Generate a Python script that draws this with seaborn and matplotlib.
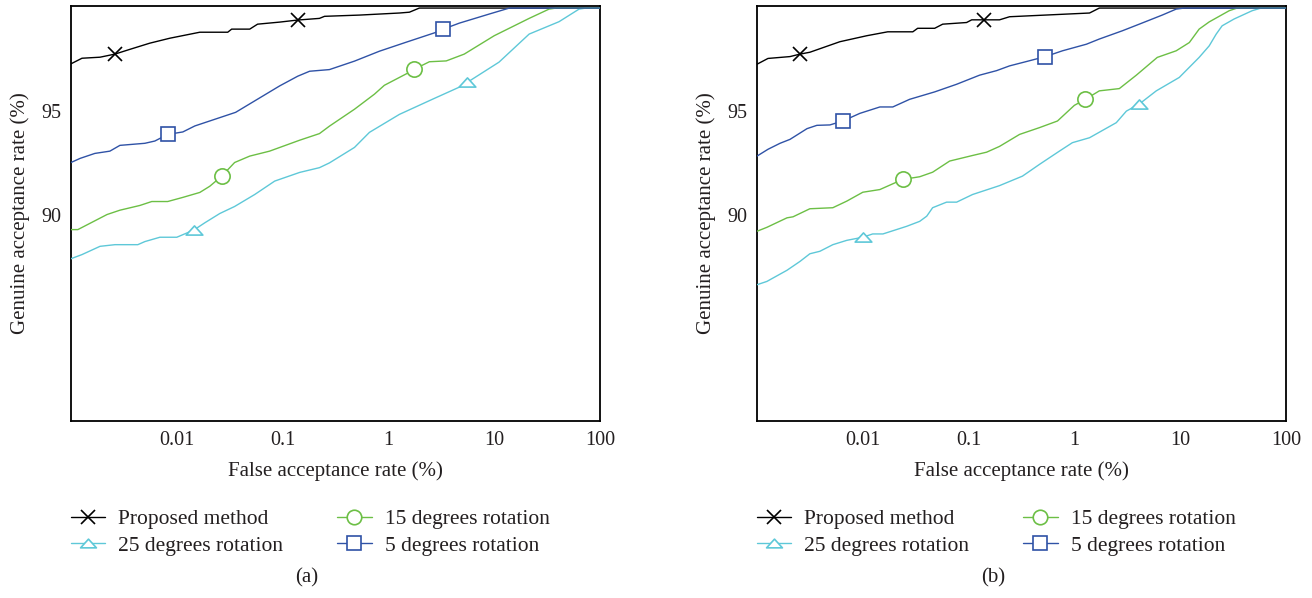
import numpy as np
import pandas as pd
import matplotlib
matplotlib.use("Agg")
import matplotlib.pyplot as plt
from matplotlib.lines import Line2D
from matplotlib.path import Path
import seaborn as sns

# ---------------- data: FAR (%) vs. GAR (%) ----------------
series_names = ["Proposed method", "25 degrees rotation",
                "15 degrees rotation", "5 degrees rotation"]

# panel (a)
far_a_proposed = [0.001, 0.00127, 0.00188, 0.0026, 0.0036, 0.00556, 0.0086, 0.0165,
                  0.0303, 0.033, 0.0489, 0.058, 0.0938, 0.139, 0.223, 0.249, 0.532,
                  1.27, 1.58, 1.96, 100]
gar_a_proposed = [97.3, 97.57, 97.62, 97.77, 98.0, 98.3, 98.54, 98.83,
                  98.83, 98.98, 98.98, 99.22, 99.32, 99.42, 99.5, 99.6, 99.66,
                  99.76, 99.8, 100, 100]

far_a_rot25 = [0.001, 0.00127, 0.00188, 0.0026, 0.00428, 0.00499, 0.00692, 0.01,
               0.0145, 0.0184, 0.0255, 0.0352, 0.0545, 0.0842, 0.145, 0.223, 0.277,
               0.478, 0.662, 1.27, 2.6, 4.68, 5.56, 11.1, 21.4, 41.0, 63.4, 73.8, 100]
gar_a_rot25 = [87.86, 88.06, 88.46, 88.54, 88.54, 88.69, 88.9, 88.9,
               89.25, 89.6, 90.05, 90.39, 90.97, 91.62, 92.04, 92.27, 92.5,
               93.25, 93.98, 94.85, 95.58, 96.17, 96.4, 97.38, 98.74, 99.34, 99.95, 100, 100]

far_a_rot15 = [0.001, 0.00116, 0.00219, 0.0029, 0.00448, 0.0058, 0.0082, 0.0114,
               0.0165, 0.0205, 0.0266, 0.0352, 0.0489, 0.0753, 0.145, 0.223, 0.277,
               0.478, 0.738, 0.916, 1.51, 1.76, 2.44, 3.52, 5.21, 10.0, 21.4, 33.0,
               38.5, 100]
gar_a_rot15 = [89.27, 89.27, 90.0, 90.21, 90.44, 90.63, 90.63, 90.83,
               91.07, 91.37, 91.86, 92.52, 92.83, 93.07, 93.6, 93.92, 94.28,
               95.1, 95.83, 96.26, 96.84, 97.04, 97.4, 97.44, 97.77, 98.66, 99.5, 99.95,
               100, 100]

far_a_rot5 = [0.001, 0.00122, 0.00168, 0.00233, 0.0029, 0.00499, 0.0062, 0.0082,
              0.0114, 0.0148, 0.036, 0.0938, 0.139, 0.18, 0.277, 0.478, 0.822,
              1.48, 2.84, 3.3, 4.68, 8.97, 13.9, 100]
gar_a_rot5 = [92.52, 92.72, 92.96, 93.07, 93.35, 93.45, 93.56, 93.88,
              94.0, 94.29, 94.95, 96.23, 96.7, 96.94, 97.02, 97.43, 97.91,
              98.35, 98.83, 98.98, 99.27, 99.71, 100, 100]

# panel (b)
far_b_proposed = [0.001, 0.00127, 0.00205, 0.00255, 0.00316, 0.00607, 0.0109, 0.0172,
                  0.0297, 0.033, 0.0478, 0.0569, 0.0957, 0.107, 0.139, 0.196, 0.244,
                  1.39, 1.72, 100]
gar_b_proposed = [97.28, 97.56, 97.65, 97.77, 97.86, 98.37, 98.66, 98.85,
                  98.85, 99.02, 99.02, 99.22, 99.3, 99.43, 99.43, 99.43, 99.58,
                  99.76, 100, 100]

far_b_rot25 = [0.001, 0.00124, 0.00192, 0.00255, 0.00316, 0.00393, 0.00521, 0.00706,
               0.01, 0.0124, 0.0155, 0.026, 0.0345, 0.0402, 0.0457, 0.0619, 0.0771,
               0.109, 0.196, 0.323, 0.468, 0.721, 0.957, 1.39, 2.49, 3.1, 4.1, 5.94,
               9.8, 15.1, 18.8, 21.9, 24.9, 32.3, 47.8, 58.1, 100]
gar_b_rot25 = [86.6, 86.76, 87.3, 87.73, 88.1, 88.22, 88.54, 88.75,
               88.9, 89.06, 89.06, 89.43, 89.67, 89.92, 90.33, 90.6, 90.6,
               90.97, 91.4, 91.86, 92.43, 93.07, 93.48, 93.72, 94.45, 95.01, 95.35, 95.99,
               96.64, 97.61, 98.17, 98.74, 99.14, 99.47, 99.87, 100, 100]

far_b_rot15 = [0.001, 0.00124, 0.00192, 0.00219, 0.00316, 0.00521, 0.00706, 0.01,
               0.0145, 0.0238, 0.0345, 0.0457, 0.0662, 0.109, 0.148, 0.196, 0.303,
               0.468, 0.692, 1.0, 1.27, 1.72, 2.66, 3.85, 6.07, 9.16, 12.2, 15.1,
               18.8, 29.0, 34.5, 100]
gar_b_rot15 = [89.19, 89.38, 89.84, 89.89, 90.28, 90.33, 90.65, 91.08,
               91.21, 91.7, 91.83, 92.05, 92.59, 92.86, 93.02, 93.3, 93.88,
               94.21, 94.53, 95.29, 95.58, 95.99, 96.1, 96.75, 97.61, 97.93, 98.33, 98.98,
               99.33, 99.87, 100, 100]

far_b_rot5 = [0.001, 0.00127, 0.00165, 0.00205, 0.00297, 0.00368, 0.00489, 0.00648,
              0.00938, 0.0145, 0.0192, 0.0277, 0.0478, 0.0771, 0.127, 0.184, 0.244,
              0.352, 0.532, 0.771, 1.3, 1.72, 2.84, 4.1, 6.76, 9.16, 10.9, 100]
gar_b_rot5 = [92.83, 93.16, 93.45, 93.64, 94.16, 94.32, 94.34, 94.53,
              94.9, 95.21, 95.21, 95.58, 95.94, 96.31, 96.75, 96.97, 97.2,
              97.41, 97.65, 97.93, 98.25, 98.5, 98.9, 99.22, 99.66, 99.95, 100, 100]

# FAR values at which each curve carries its symbols
marks_a = {"Proposed method": [0.0026, 0.139], "25 degrees rotation": [0.0145, 5.56],
           "15 degrees rotation": [0.0266, 1.76], "5 degrees rotation": [0.0082, 3.3]}
marks_b = {"Proposed method": [0.00255, 0.139], "25 degrees rotation": [0.01, 4.1],
           "15 degrees rotation": [0.0238, 1.27], "5 degrees rotation": [0.00648, 0.532]}

x_ticks = [0.01, 0.1, 1, 10, 100]
x_tick_labels = ["0.01", "0.1", "1", "10", "100"]
y_ticks = [90, 95]
captions = ["(a)", "(b)"]

panels = [
    {"Proposed method": (far_a_proposed, gar_a_proposed),
     "25 degrees rotation": (far_a_rot25, gar_a_rot25),
     "15 degrees rotation": (far_a_rot15, gar_a_rot15),
     "5 degrees rotation": (far_a_rot5, gar_a_rot5)},
    {"Proposed method": (far_b_proposed, gar_b_proposed),
     "25 degrees rotation": (far_b_rot25, gar_b_rot25),
     "15 degrees rotation": (far_b_rot15, gar_b_rot15),
     "5 degrees rotation": (far_b_rot5, gar_b_rot5)},
]
panel_marks = [marks_a, marks_b]

# ---------------- styling ----------------
flat_triangle = Path([(-1.0, -0.55), (1.0, -0.55), (0.0, 0.55), (-1.0, -0.55)],
                     [Path.MOVETO, Path.LINETO, Path.LINETO, Path.CLOSEPOLY])
styles = {
    "Proposed method": dict(color="#000000", marker="x", ms=10, mew=1.2),
    "25 degrees rotation": dict(color="#5ec8d8", marker=flat_triangle, ms=12, mew=1.2),
    "15 degrees rotation": dict(color="#6cbf45", marker="o", ms=11, mew=1.2),
    "5 degrees rotation": dict(color="#2f52a6", marker="s", ms=10, mew=1.2),
}

sns.set_theme(style="white")
text_color = "#231f20"
plt.rcParams.update({
    "font.family": ["Liberation Serif", "DejaVu Serif"],
    "axes.edgecolor": "#000000",
    "axes.linewidth": 1.3,
    "text.color": text_color,
    "axes.labelcolor": text_color,
    "xtick.color": "#000000",
    "ytick.color": "#000000",
    "xtick.labelcolor": text_color,
    "ytick.labelcolor": text_color,
})

W, H = 1312, 598
fig = plt.figure(figsize=(W / 100, H / 100), dpi=100)
fig.patch.set_facecolor("white")

ax_lefts = [71, 757]
ax_w, ax_top, ax_bottom = 529, 6, 421

for k, (data, marks) in enumerate(zip(panels, panel_marks)):
    ax = fig.add_axes([ax_lefts[k] / W, 1 - ax_bottom / H, ax_w / W, (ax_bottom - ax_top) / H])
    for name in series_names:
        far, gar = data[name]
        far_arr = np.asarray(far)
        idx = [int(np.argmin(np.abs(np.log10(far_arr) - np.log10(m)))) for m in marks[name]]
        st = styles[name]
        df = pd.DataFrame({"far": far, "gar": gar})
        sns.lineplot(data=df, x="far", y="gar", ax=ax, estimator=None, sort=False,
                     color=st["color"], lw=1.0, marker=st["marker"], ms=st["ms"],
                     mew=st["mew"], mfc="white", mec=st["color"], markevery=idx,
                     legend=False, zorder=3)

    ax.set_xscale("log")
    ax.set_xlim(0.001, 100)
    ax.set_ylim(80, 100.1)
    ax.set_xticks(x_ticks)
    ax.set_xticklabels(x_tick_labels)
    ax.minorticks_off()
    ax.set_yticks(y_ticks)
    ax.tick_params(axis="both", direction="in", length=5.5, width=1.0,
                   labelsize=14.5, top=False, right=False)
    ax.tick_params(axis="x", pad=7)
    ax.tick_params(axis="y", pad=7)
    ax.set_xlabel("False acceptance rate (%)", fontsize=15, labelpad=8)
    ax.set_ylabel("Genuine acceptance rate (%)", fontsize=15)
    ax.yaxis.set_label_coords(-0.078, 0.5)
    for sp in ax.spines.values():
        sp.set_visible(True)
        sp.set_color("#000000")

    handles = []
    for name in series_names:
        st = styles[name]
        handles.append(Line2D([0], [0], color=st["color"], lw=1.0, marker=st["marker"],
                              ms=st["ms"] * 0.95, mew=st["mew"], mfc="white",
                              mec=st["color"]))
    ax.legend(handles, series_names, ncol=2, loc="upper left",
              bbox_to_anchor=(0.0, -0.212), frameon=False, borderpad=0,
              borderaxespad=0, handlelength=1.6, handletextpad=0.6,
              columnspacing=2.5, labelspacing=0.3, fontsize=15.5)

    fig.text((ax_lefts[k] + 236) / W, 1 - 578 / H, captions[k], fontsize=15,
             ha="center", va="center", color=text_color)

fig.savefig("out.png", dpi=100, facecolor="white")
